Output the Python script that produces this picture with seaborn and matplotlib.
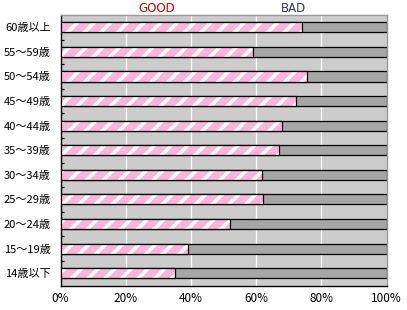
import matplotlib
matplotlib.use("Agg")
import matplotlib.pyplot as plt
import seaborn as sns
import pandas as pd
from matplotlib.ticker import FixedLocator, PercentFormatter

categories = ["60歳以上", "55～59歳", "50～54歳", "45～49歳", "40～44歳", "35～39歳",
              "30～34歳", "25～29歳", "20～24歳", "15～19歳", "14歳以下"]
good = [74.2, 59.1, 75.7, 72.3, 68.0, 67.1, 61.8, 62.2, 52.1, 39.2, 35.2]
total = [100] * len(categories)
x_ticks = [0, 20, 40, 60, 80, 100]

sns.set_theme(style="white")
plt.rcParams["font.family"] = ["Noto Sans CJK JP", "DejaVu Sans"]
plt.rcParams["hatch.linewidth"] = 2.6

df = pd.DataFrame({"cat": categories, "good": good, "total": total})

fig = plt.figure(figsize=(4.07, 3.10), dpi=100)
ax = fig.add_axes([60.5 / 407, 1 - 285.5 / 310, 326 / 407, 270.5 / 310])
ax.set_facecolor("#cccccc")

w = 0.41
sns.barplot(data=df, y="cat", x="total", orient="h", color="#a6a6a6", width=w,
            saturation=1, edgecolor="black", linewidth=0.9, ax=ax, zorder=2)
n0 = len(ax.patches)
sns.barplot(data=df, y="cat", x="good", orient="h", color="#ffb4dc", width=w,
            saturation=1, ax=ax, zorder=3)
for p in ax.patches[n0:]:
    p.set_hatch("//")
    p.set_edgecolor("white")
    p.set_linewidth(0)
n1 = len(ax.patches)
sns.barplot(data=df, y="cat", x="good", orient="h", color="#ffb4dc", width=w,
            saturation=1, ax=ax, zorder=4)
for p in ax.patches[n1:]:
    p.set_facecolor("none")
    p.set_edgecolor("black")
    p.set_linewidth(0.9)

ax.set_xlim(0, 100)
ax.set_ylim(len(categories) - 0.5, -0.5)
ax.set_xticks(x_ticks)
ax.xaxis.set_major_formatter(PercentFormatter(decimals=0))
for xv in x_ticks[1:-1]:
    ax.axvline(xv, color="white", linewidth=1.0, zorder=1)

ax.set_xlabel("")
ax.set_ylabel("")
ax.yaxis.set_minor_locator(FixedLocator([i + 0.5 for i in range(len(categories) - 1)]))
ax.tick_params(axis="y", which="major", length=0, pad=7, labelsize=8, colors="black")
ax.tick_params(axis="y", which="minor", left=True, direction="in", length=2.5,
               width=0.9, color="black")
ax.tick_params(axis="x", which="major", length=0, pad=5, labelsize=8.5, colors="black")

for s in ["left", "bottom"]:
    ax.spines[s].set_color("black")
    ax.spines[s].set_linewidth(1.0)
for s in ["top", "right"]:
    ax.spines[s].set_color("#999999")
    ax.spines[s].set_linewidth(1.0)

ax.text(0.296, 1.0, "GOOD", transform=ax.transAxes, ha="center", va="bottom",
        color="#cc0000", fontsize=8.5, family=["DejaVu Sans"])
ax.text(0.716, 1.0, "BAD", transform=ax.transAxes, ha="center", va="bottom",
        color="#333366", fontsize=8.5, family=["DejaVu Sans"])

fig.savefig("out.png", dpi=100)
